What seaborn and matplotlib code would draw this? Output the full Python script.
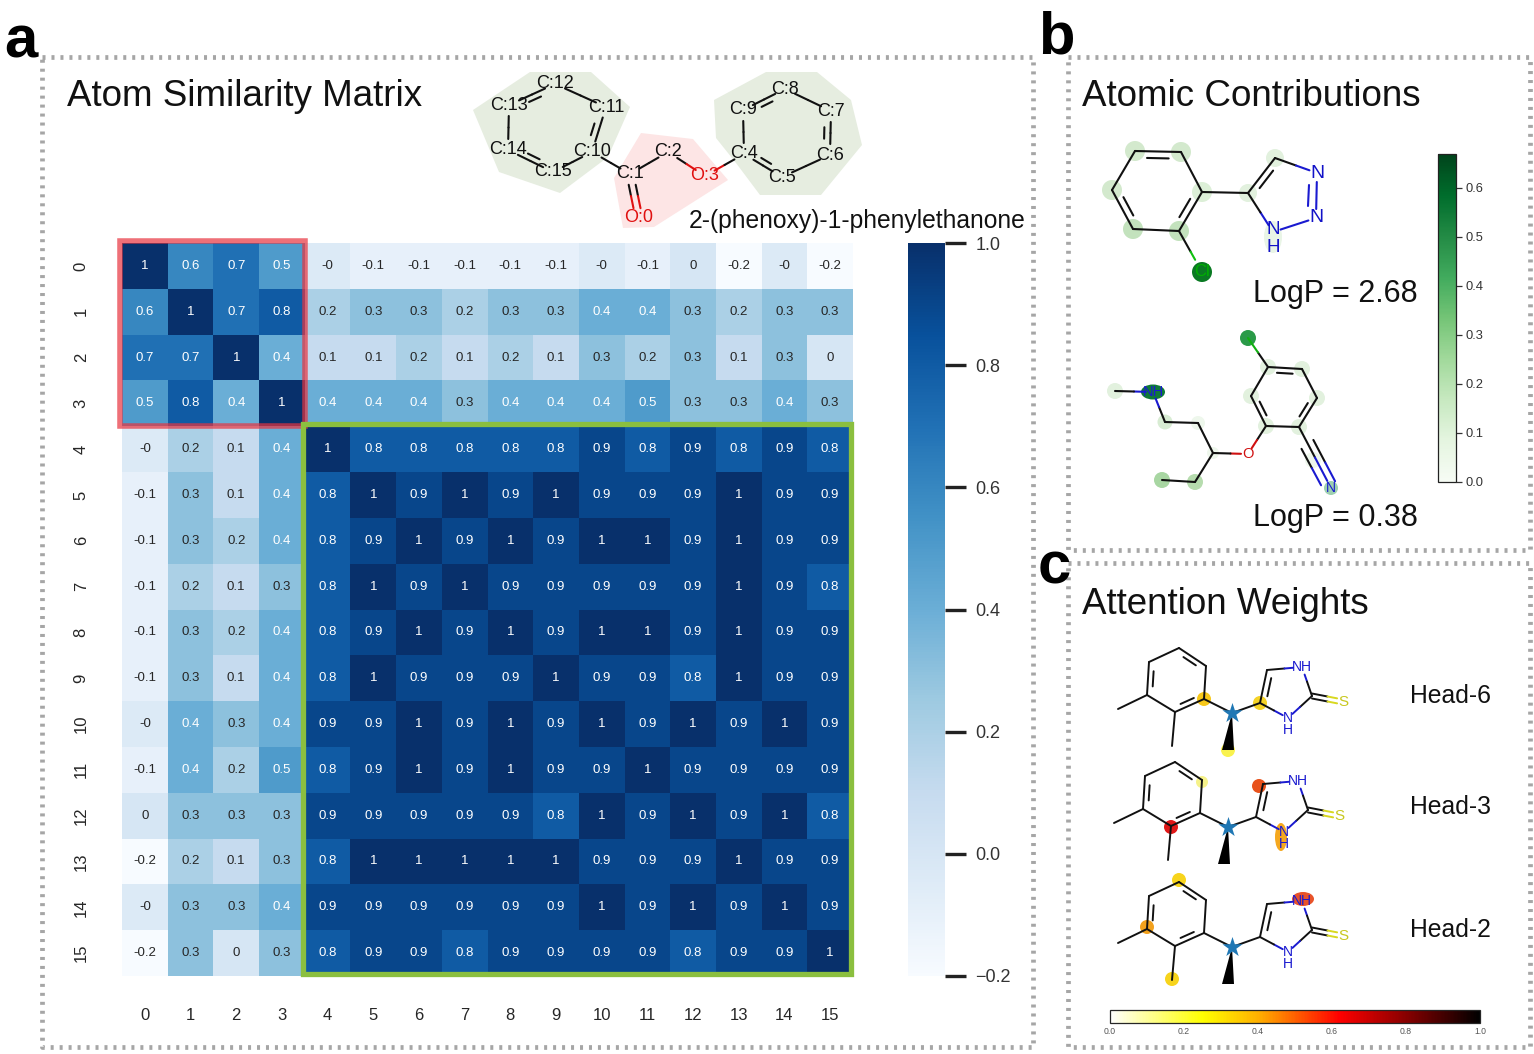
import numpy as np
import pandas as pd
import seaborn as sns
import matplotlib
matplotlib.use("Agg")
import matplotlib.pyplot as plt
from matplotlib.colors import LinearSegmentedColormap, Normalize
from matplotlib.cm import ScalarMappable
from matplotlib.patches import Rectangle, Polygon, Ellipse

W, H = 1534, 1054
LABELS = list(range(16))
ROW0 = [1, .6, .7, .5, -.04, -.1, -.1, -.1, -.1, -.1, -.04, -.1, 0, -.2, -.04, -.2]
ROW1 = [.6, 1, .7, .8, .2, .3, .3, .2, .3, .3, .4, .4, .3, .2, .3, .3]
ROW2 = [.7, .7, 1, .4, .1, .1, .2, .1, .2, .1, .3, .2, .3, .1, .3, 0]
ROW3 = [.5, .8, .4, 1, .4, .4, .4, .3, .4, .4, .4, .5, .3, .3, .4, .3]
ROW4 = [-.04, .2, .1, .4, 1, .8, .8, .8, .8, .8, .9, .8, .9, .8, .9, .8]
ROW5 = [-.1, .3, .1, .4, .8, 1, .9, 1, .9, 1, .9, .9, .9, 1, .9, .9]
ROW6 = [-.1, .3, .2, .4, .8, .9, 1, .9, 1, .9, 1, 1, .9, 1, .9, .9]
ROW7 = [-.1, .2, .1, .3, .8, 1, .9, 1, .9, .9, .9, .9, .9, 1, .9, .8]
ROW8 = [-.1, .3, .2, .4, .8, .9, 1, .9, 1, .9, 1, 1, .9, 1, .9, .9]
ROW9 = [-.1, .3, .1, .4, .8, 1, .9, .9, .9, 1, .9, .9, .8, 1, .9, .9]
ROW10 = [-.04, .4, .3, .4, .9, .9, 1, .9, 1, .9, 1, .9, 1, .9, 1, .9]
ROW11 = [-.1, .4, .2, .5, .8, .9, 1, .9, 1, .9, .9, 1, .9, .9, .9, .9]
ROW12 = [0, .3, .3, .3, .9, .9, .9, .9, .9, .8, 1, .9, 1, .9, 1, .8]
ROW13 = [-.2, .2, .1, .3, .8, 1, 1, 1, 1, 1, .9, .9, .9, 1, .9, .9]
ROW14 = [-.04, .3, .3, .4, .9, .9, .9, .9, .9, .9, 1, .9, 1, .9, 1, .9]
ROW15 = [-.2, .3, 0, .3, .8, .9, .9, .8, .9, .9, .9, .9, .8, .9, .9, 1]
MATRIX = [ROW0, ROW1, ROW2, ROW3, ROW4, ROW5, ROW6, ROW7, ROW8, ROW9,
          ROW10, ROW11, ROW12, ROW13, ROW14, ROW15]

sns.set_theme(style="white")
SANS = ["Liberation Sans", "DejaVu Sans"]
plt.rcParams["font.family"] = SANS

fig = plt.figure(figsize=(W / 100, H / 100), dpi=100, facecolor="white")


def axpx(x0, y0, x1, y1, **kw):
    return fig.add_axes([x0 / W, 1 - y1 / H, (x1 - x0) / W, (y1 - y0) / H], **kw)


# ---------- panel a heatmap ----------
ax = axpx(122, 243, 853, 976)
cax = axpx(908, 243, 945, 976)
df = pd.DataFrame(MATRIX, index=LABELS, columns=LABELS)
sns.heatmap(df, ax=ax, cbar_ax=cax, cmap="Blues", vmin=-0.2, vmax=1,
            annot=df.round(1).to_numpy(), fmt="g",
            annot_kws={"fontsize": 9.5}, linewidths=0)
ax.tick_params(axis="both", length=0, labelsize=12, colors="#262626")
ax.tick_params(axis="x", pad=23, rotation=0)
ax.tick_params(axis="y", pad=24, rotation=90)
for t in ax.get_yticklabels():
    t.set_va("center")
ax.add_patch(Rectangle((-.04, -.04), 4.04, 4.04, fill=False, ec="#e8343f", alpha=.7, lw=4,
                       clip_on=False, zorder=5))
ax.add_patch(Rectangle((3.96, 3.96), 12, 12, fill=False, ec="#8bbf3f", lw=3.8,
                       clip_on=False, zorder=6))
cax.tick_params(axis="y", length=15, width=2.4, color="#222222", labelsize=13,
                pad=7, labelcolor="#333333", right=True)
cax.set_yticks([-.2, 0, .2, .4, .6, .8, 1.0])
for s in cax.spines.values():
    s.set_visible(False)

# ---------- overlay in pixel coordinates ----------
ov = fig.add_axes([0, 0, 1, 1], zorder=5)
ov.set_xlim(0, W)
ov.set_ylim(H, 0)
ov.axis("off")
ov.patch.set_alpha(0)

FRAME_A = (42, 57, 1033, 1047)
FRAME_B = (1068, 57, 1530, 550)
FRAME_C = (1068, 563, 1530, 1047)
for (x0, y0, x1, y1) in (FRAME_A, FRAME_B, FRAME_C):
    ov.plot([x0, x1, x1, x0, x0], [y0, y0, y1, y1, y0], color="#a6a6a6", lw=3.4,
            ls=(0, (0.64, 1.26)), solid_capstyle="butt", dash_capstyle="butt")

ov.text(4, 58, "a", fontsize=43, fontweight="bold", color="black", va="baseline")
ov.text(1038, 54, "b", fontsize=43, fontweight="bold", color="black", va="baseline")
ov.text(1038, 583, "c", fontsize=43, fontweight="bold", color="black", va="baseline")
ov.text(67, 96, "Atom Similarity Matrix", fontsize=26.5, color="#111111", va="center")
ov.text(1082, 96, "Atomic Contributions", fontsize=26.5, color="#111111", va="center")
ov.text(1082, 605, "Attention Weights", fontsize=26.5, color="#111111", va="center")
ov.text(689, 221, "2-(phenoxy)-1-phenylethanone", fontsize=17.7, color="#111111", va="center")
ov.text(1253, 294, "LogP = 2.68", fontsize=22, color="#111111", va="center")
ov.text(1253, 518, "LogP = 0.38", fontsize=22, color="#111111", va="center")


def bond(p, q, c1="#111111", c2=None, lw=1.5, g1=0, g2=0, frac=.5):
    p, q = np.array(p, float), np.array(q, float)
    u = (q - p) / np.linalg.norm(q - p)
    a, b = p + u * g1, q - u * g2
    m = p + (q - p) * frac
    if c2 is None:
        ov.plot([a[0], b[0]], [a[1], b[1]], color=c1, lw=lw, solid_capstyle="round")
    else:
        ov.plot([a[0], m[0]], [a[1], m[1]], color=c1, lw=lw, solid_capstyle="round")
        ov.plot([m[0], b[0]], [m[1], b[1]], color=c2, lw=lw, solid_capstyle="round")


def inner(p, q, center, off=.2, sh=.18, c="#111111", lw=1.5):
    p, q, ctr = np.array(p, float), np.array(q, float), np.array(center, float)
    a = p + (ctr - p) * off + (q - p) * sh * .6
    b = q + (ctr - q) * off - (q - p) * sh * .6
    ov.plot([a[0], b[0]], [a[1], b[1]], color=c, lw=lw)


def blob(p, rx=10, ry=None, color="#cfe8c8", z=1):
    ry = rx if ry is None else ry
    ov.add_patch(Ellipse(p, 2 * rx, 2 * ry, fc=color, ec="none", zorder=z))


def label(p, s, color="#1a1ad0", fs=11):
    ov.text(p[0], p[1], s, color=color, fontsize=fs, ha="center", va="center", zorder=4)


# ---------- molecule in panel a ----------
HULL_L = [(530, 72), (591, 72), (630, 107), (608, 157), (560, 193), (499, 172), (473, 110)]
HULL_R = [(766, 72), (817, 72), (851, 100), (862, 145), (821, 195), (760, 195), (736, 163), (716, 138), (714, 100)]
HULL_M = [(641, 133), (693, 139), (728, 180), (654, 227), (623, 228), (614, 178)]
ov.add_patch(Polygon(HULL_L, fc="#e6ede0", ec="none"))
ov.add_patch(Polygon(HULL_R, fc="#e6ede0", ec="none"))
ov.add_patch(Polygon(HULL_M, fc="#fde5e5", ec="none"))
ATOMS_A = {"O:0": (639, 218), "C:1": (630, 174), "C:2": (668, 152), "O:3": (705, 176),
           "C:4": (744, 154), "C:5": (782, 177), "C:6": (830, 155), "C:7": (831, 111),
           "C:8": (785, 89), "C:9": (743, 110), "C:10": (592, 152), "C:11": (606, 107),
           "C:12": (555, 84), "C:13": (509, 105), "C:14": (508, 150), "C:15": (553, 172)}
BONDS_A = [("C:1", "C:2"), ("C:2", "O:3"), ("O:3", "C:4"), ("C:4", "C:5"), ("C:5", "C:6"),
           ("C:6", "C:7"), ("C:7", "C:8"), ("C:8", "C:9"), ("C:9", "C:4"), ("C:1", "C:10"),
           ("C:10", "C:11"), ("C:11", "C:12"), ("C:12", "C:13"), ("C:13", "C:14"),
           ("C:14", "C:15"), ("C:15", "C:10")]
for a, b in BONDS_A:
    c1 = "#e01010" if a.startswith("O") else "#111111"
    c2 = "#e01010" if b.startswith("O") else "#111111"
    bond(ATOMS_A[a], ATOMS_A[b], c1, c2, g1=11, g2=11)
for d in (-3.5, 3.5):
    p, q = np.array(ATOMS_A["C:1"]) + (d, 0), np.array(ATOMS_A["O:0"]) + (d, 0)
    bond(p, q, "#111111", "#e01010", g1=11, g2=10)
ctrL = np.mean([ATOMS_A[k] for k in ("C:10", "C:11", "C:12", "C:13", "C:14", "C:15")], axis=0)
ctrR = np.mean([ATOMS_A[k] for k in ("C:4", "C:5", "C:6", "C:7", "C:8", "C:9")], axis=0)
for a, b in [("C:10", "C:11"), ("C:12", "C:13"), ("C:14", "C:15")]:
    inner(ATOMS_A[a], ATOMS_A[b], ctrL, off=.14, sh=.5)
for a, b in [("C:4", "C:5"), ("C:6", "C:7"), ("C:8", "C:9")]:
    inner(ATOMS_A[a], ATOMS_A[b], ctrR, off=.14, sh=.5)
for k, p in ATOMS_A.items():
    label(p, k, color="#e01010" if k.startswith("O") else "#111111", fs=13)

# ---------- panel b top molecule ----------
RING_B1 = [(1135, 151), (1181, 152), (1202, 192), (1179, 231), (1133, 229), (1112, 190)]
RING_B1_SHADE = ["#d3e9cd", "#d3e9cd", "#dcefd7", "#c3e2bd", "#c3e2bd", "#d3e9cd"]
for p, c in zip(RING_B1, RING_B1_SHADE):
    blob(p, 10, color=c)
blob((1248, 193), 9, color="#e2f1de")
blob((1275, 158), 9, color="#e2f1de")
blob((1273, 237), 9, 16, color="#e9f5e6")
blob((1202, 272), 10, color="#0a7a23")
for i in range(6):
    bond(RING_B1[i], RING_B1[(i + 1) % 6])
ctr = np.mean(RING_B1, axis=0)
for i in (0, 2, 4):
    inner(RING_B1[i], RING_B1[(i + 1) % 6], ctr, off=.17, sh=.3)
bond((1202, 192), (1248, 193))
bond((1179, 231), (1202, 272), "#111111", "#10c010", g2=14)
TRI = [(1248, 193), (1275, 158), (1317, 173), (1316, 218), (1273, 232)]
bond(TRI[0], TRI[1])
inner(TRI[0], TRI[1], np.mean(TRI, axis=0), off=.2, sh=.25)
bond(TRI[1], TRI[2], "#111111", "#1a1ad0", g2=8)
bond(TRI[2], TRI[3], "#1a1ad0", lw=1.5, g1=9, g2=9)
bond((1309, 185), (1308, 206), "#1a1ad0")
bond(TRI[3], TRI[4], "#1a1ad0", g1=8, g2=8)
bond(TRI[4], TRI[0], "#1a1ad0", "#111111", g1=8)
label(TRI[2], "N", fs=14, color="#1212c8")
label(TRI[3], "N", fs=14, color="#1212c8")
label((1273, 230), "N", fs=13.5, color="#1212c8")
label((1273, 248), "H", fs=13.5, color="#1212c8")
label((1202, 272), "Cl", color="#00b000", fs=12)

# ---------- panel b lower molecule ----------
RING_B2 = [(1268, 367), (1302, 369), (1317, 398), (1299, 427), (1266, 426), (1251, 396)]
for p in RING_B2:
    blob(p, 8, color="#e2f1de")
blob((1248, 338), 8, color="#2a9a48")
blob((1153, 392), 12, 7.5, color="#0f7a37")
blob((1115, 391), 8, color="#e2f1de")
blob((1165, 422), 7.5, color="#d8ecd3")
blob((1198, 423), 7, color="#eef7ec")
blob((1213, 453), 6, color="#eef7ec")
blob((1162, 480), 8, color="#a8d6a2")
blob((1195, 482), 8, color="#b6dcae")
blob((1313, 460), 8, color="#eef7ec")
blob((1331, 488), 7, color="#9ed0b0")
for i in range(6):
    bond(RING_B2[i], RING_B2[(i + 1) % 6])
ctr = np.mean(RING_B2, axis=0)
for i in (0, 2, 4):
    inner(RING_B2[i], RING_B2[(i + 1) % 6], ctr, off=.18, sh=.3)
bond((1268, 367), (1248, 338), "#111111", "#10b010")
bond((1266, 426), (1248, 454), "#111111", "#d01010", g2=7)
bond((1248, 454), (1213, 453), "#d01010", "#111111", g1=7)
bond((1213, 453), (1195, 482))
bond((1195, 482), (1162, 480))
bond((1213, 453), (1198, 423))
bond((1198, 423), (1165, 422))
bond((1165, 422), (1153, 392), "#111111", "#1a1ad0", g2=7)
bond((1153, 392), (1115, 391), "#1a1ad0", "#111111", g1=7)
bond((1299, 427), (1331, 488), "#111111", "#1a1ad0", g2=8)
bond((1293, 433), (1322, 487), "#111111", "#1a1ad0", g1=18, g2=2, frac=.65)
bond((1305, 424), (1336, 483), "#111111", "#1a1ad0", g1=18, g2=2, frac=.65)
label((1153, 392), "NH", fs=10.5)
label((1248, 454), "O", color="#d01010", fs=10.5)
label((1331, 488), "N", fs=10)

# ---------- attention molecules ----------
RING_C = [(1179, 648), (1206, 666), (1204, 699), (1175, 712), (1147, 695), (1149, 662)]
ME1 = (1118, 709)
ME2 = (1172, 746)
STAR = (1232, 713)
WEDGE = (1228, 750)
IM_C5 = (1260, 703)
IM_C4 = (1267, 670)
IM_N1 = (1302, 667)
IM_C2 = (1312, 696)
IM_N3 = (1288, 718)
IM_S = (1343, 702)
# (head name, offset x, offset y, label y)
HEADS = [("Head-6", 0, 0, 696), ("Head-3", -4, 114, 807), ("Head-2", 0, 234, 930)]
HEAD_SPOTS = {
    "Head-6": [((1204, 699), 7, 7, "#f7c81a"), ((1260, 703), 7, 7, "#f5d327"), ((1228, 750), 7, 7, "#f9f24e")],
    "Head-3": [((1202, 782), 6, 6, "#f6f28a"), ((1259, 786), 7, 7, "#e8521c"), ((1171, 827), 7, 7, "#e01818"),
               ((1281, 837), 6, 14, "#f5a81f")],
    "Head-2": [((1179, 880), 7, 7, "#f7d41c"), ((1147, 927), 7, 7, "#f2a11d"), ((1172, 979), 7, 7, "#f7d41c"),
               ((1303, 899), 11, 7, "#e8532a")],
}
for name, dx, dy, ty in HEADS:
    s = lambda p: (p[0] + dx, p[1] + dy)
    for p, rx, ry, c in HEAD_SPOTS[name]:
        blob(p, rx, ry, color=c)
    R = [s(p) for p in RING_C]
    for i in range(6):
        bond(R[i], R[(i + 1) % 6], lw=1.4)
    ctr = np.mean(R, axis=0)
    for i in (0, 2, 4):
        inner(R[i], R[(i + 1) % 6], ctr, off=.18, sh=.3, lw=1.4)
    bond(R[4], s(ME1), lw=1.4)
    bond(R[3], s(ME2), lw=1.4)
    bond(R[2], s(STAR), lw=1.4)
    bond(s(STAR), s(IM_C5), lw=1.4)
    st, w = s(STAR), s(WEDGE)
    ov.add_patch(Polygon([st, (w[0] - 6, w[1]), (w[0] + 6, w[1])], fc="black", ec="none", zorder=3))
    bond(s(IM_C5), s(IM_C4), lw=1.4)
    inner(s(IM_C5), s(IM_C4), (s(IM_C2)[0] - 10, s(IM_C2)[1] - 5), off=.15, sh=.25, lw=1.4)
    bond(s(IM_C4), s(IM_N1), "#111111", "#1a1ad0", lw=1.4, g2=9)
    bond(s(IM_N1), s(IM_C2), "#1a1ad0", "#111111", lw=1.4, g1=8)
    bond(s(IM_C2), s(IM_N3), "#111111", "#1a1ad0", lw=1.4, g2=6)
    bond(s(IM_N3), s(IM_C5), "#1a1ad0", "#111111", lw=1.4, g1=6)
    for d in (-2.5, 2.5):
        bond((s(IM_C2)[0], s(IM_C2)[1] + d), (s(IM_S)[0], s(IM_S)[1] + d), "#111111", "#d8d820", lw=1.4, g2=6)
    label(s(IM_N1), "NH", fs=10)
    label(s(IM_N3), "N", fs=10)
    label((s(IM_N3)[0], s(IM_N3)[1] + 12), "H", fs=10)
    label(s(IM_S), "S", color="#c8c820", fs=11)
    ov.scatter(*st, marker="*", s=230, color="#1f77b4", zorder=4, linewidths=0)
    ov.text(1450, ty, name, fontsize=17.8, color="#111111", ha="center", va="center")

# ---------- small colour bars ----------
bax = axpx(1438, 154, 1456, 482)
cb = fig.colorbar(ScalarMappable(Normalize(0, 0.669), "Greens"), cax=bax)
cb.set_ticks([0, .1, .2, .3, .4, .5, .6])
cb.ax.tick_params(length=4, width=.9, labelsize=9.3, pad=3, colors="#333333", right=True)
cb.outline.set_linewidth(.9)
cb.outline.set_edgecolor("#222222")

HOT_STOPS = [(0, "#ffffff"), (.25, "#ffff00"), (.4, "#ffb000"), (.62, "#ff0000"), (.8, "#880000"), (1, "#000000")]
hot = LinearSegmentedColormap.from_list("attn", HOT_STOPS)
hax = axpx(1110, 1010, 1480, 1023)
cb2 = fig.colorbar(ScalarMappable(Normalize(0, 1), hot), cax=hax, orientation="horizontal")
cb2.set_ticks([0, .2, .4, .6, .8, 1.0])
cb2.ax.tick_params(length=0, labelsize=6.2, pad=3, colors="#555555")
cb2.outline.set_linewidth(.9)

fig.savefig("out.png", dpi=100)
